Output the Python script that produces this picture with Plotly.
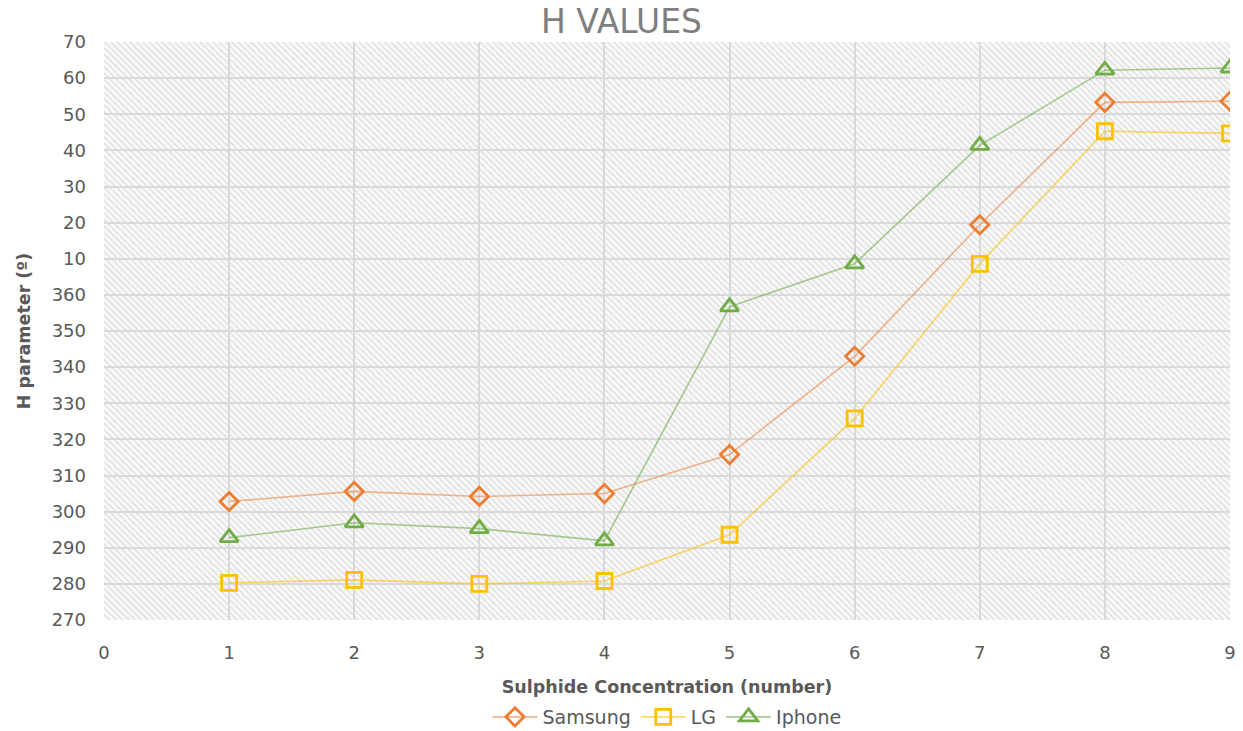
import base64
import plotly.graph_objects as go

# ---- data ----
x_vals = [1, 2, 3, 4, 5, 6, 7, 8, 9]
samsung = [302.8, 305.6, 304.2, 305.0, 315.8, 343.0, 379.4, 413.3, 413.6]
lg = [280.3, 281.1, 280.0, 280.8, 293.6, 325.8, 368.6, 405.3, 404.7]
iphone = [292.8, 296.9, 295.3, 291.9, 356.7, 368.6, 401.4, 422.2, 422.8]

y_tick_vals = list(range(270, 431, 10))
y_tick_text = ["270", "280", "290", "300", "310", "320", "330", "340", "350", "360",
               "10", "20", "30", "40", "50", "60", "70"]
x_tick_vals = list(range(0, 10))

title_text = "H VALUES"
x_title = "Sulphide Concentration (number)"
y_title = "H parameter (º)"

# ---- background hatch pattern as svg image ----
svg = (
    '<svg xmlns="http://www.w3.org/2000/svg" width="1126" height="578">'
    '<defs><pattern id="p" width="4.5" height="4.5" patternUnits="userSpaceOnUse" '
    'patternTransform="rotate(-45)">'
    '<rect width="4.5" height="4.5" fill="#f7f7f7"/>'
    '<line x1="0" y1="0" x2="0" y2="4.5" stroke="#cfcfcf" stroke-width="1.5"/>'
    '</pattern></defs>'
    '<rect width="1126" height="578" fill="url(#p)"/></svg>'
)
svg_uri = "data:image/svg+xml;base64," + base64.b64encode(svg.encode()).decode()

fig = go.Figure()

series = [
    ("Samsung", samsung, "#ED7D31", "rgba(237,125,49,0.55)", "diamond-open", 14),
    ("LG", lg, "#FFC000", "rgba(255,192,0,0.6)", "square-open", 15),
    ("Iphone", iphone, "#70AD47", "rgba(112,173,71,0.6)", "triangle-up-open", 16),
]
for name, vals, mc, lc, sym, sz in series:
    fig.add_trace(go.Scatter(
        x=x_vals, y=vals, name=name, mode="lines+markers",
        line=dict(color=lc, width=1.6),
        marker=dict(symbol=sym, size=sz, color=mc, line=dict(color=mc, width=2.8)),
    ))

font_family = "DejaVu Sans, sans-serif"
fig.update_layout(
    width=1243, height=731,
    margin=dict(l=104, r=13, t=42, b=111, autoexpand=False),
    paper_bgcolor="white",
    plot_bgcolor="rgba(0,0,0,0)",
    font=dict(family=font_family, color="#595959", size=18),
    title=dict(text=title_text, x=0.5, xanchor="center", y=1 - 21 / 731, yanchor="middle",
               font=dict(size=33, color="#7f7f7f", family=font_family)),
    xaxis=dict(range=[0, 9], tickvals=x_tick_vals, showgrid=True, gridcolor="#d9d9d9",
               gridwidth=1.5, zeroline=False, showline=False, ticks="",
               automargin=False, ticklabelstandoff=20,
               tickfont=dict(size=18, color="#595959"),
               title=dict(text="<b>" + x_title + "</b>", font=dict(size=17.5, color="#595959"),
                          standoff=18)),
    yaxis=dict(range=[270, 430], tickvals=y_tick_vals, ticktext=y_tick_text,
               showgrid=True, gridcolor="#d9d9d9", gridwidth=1.5, zeroline=False,
               showline=False, ticks="", ticklabelstandoff=17, automargin=False,
               tickfont=dict(size=18, color="#595959"),
               title=dict(text="<b>" + y_title + "</b>", font=dict(size=17.5, color="#595959"),
                          standoff=16)),
    legend=dict(orientation="h", x=0.5, xanchor="center", y=-(717 - 620) / 578,
                yanchor="middle", font=dict(size=19, color="#595959"), itemwidth=45),
    images=[dict(source=svg_uri, xref="paper", yref="paper", x=0, y=1, sizex=1, sizey=1,
                 xanchor="left", yanchor="top", sizing="stretch", layer="below")],
    showlegend=True,
)

fig.write_html("out.html", config={"displayModeBar": False},
               post_script="document.body.style.margin='0';")
